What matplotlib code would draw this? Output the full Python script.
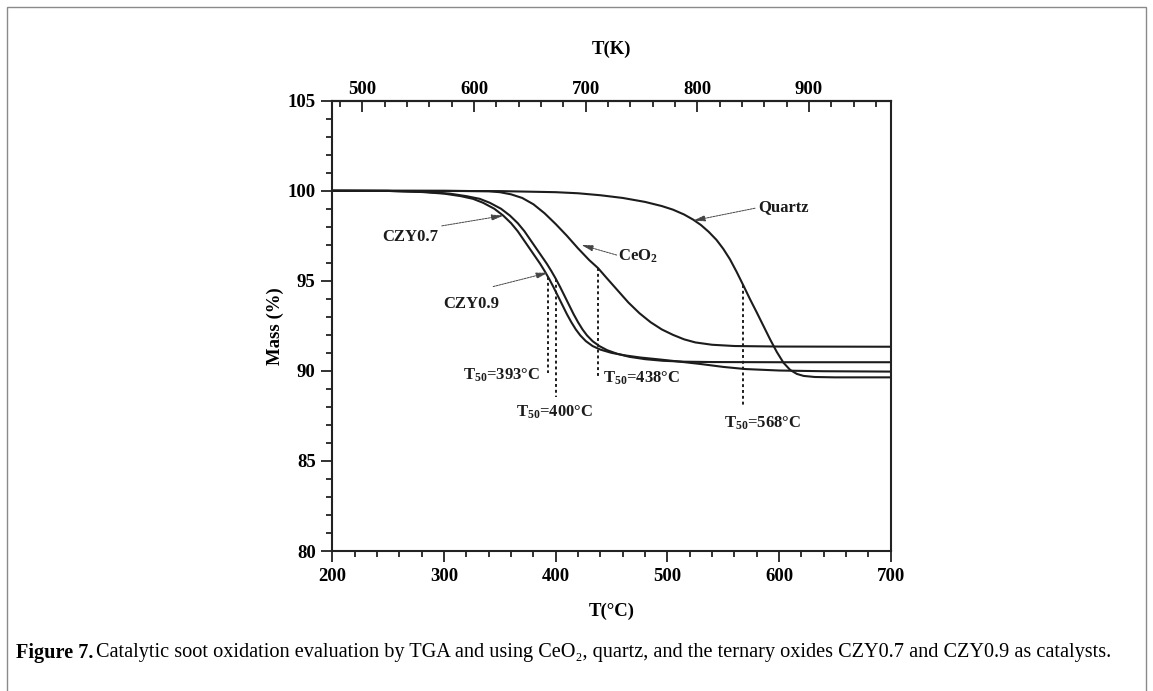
import numpy as np
import matplotlib
matplotlib.use('Agg')
import matplotlib.pyplot as plt
from matplotlib.patches import Rectangle
from matplotlib.ticker import MultipleLocator, FixedLocator

plt.rcParams['font.family'] = ['Liberation Serif', 'DejaVu Serif']
plt.rcParams['mathtext.fontset'] = 'custom'
plt.rcParams['mathtext.rm'] = 'Liberation Serif:bold'
plt.rcParams['mathtext.it'] = 'Liberation Serif:bold'
plt.rcParams['mathtext.bf'] = 'Liberation Serif:bold'

# TGA curves: temperature (°C) and mass (%)
czy_a_t = [200, 250, 280, 300, 315, 326, 335, 345, 353, 360, 366, 371, 376, 381, 386, 390, 394, 398, 402, 406, 410, 414, 418, 422, 427, 433, 440, 450, 462, 476, 492, 510, 530, 550, 570, 600, 640, 700]
czy_a_m = [100, 99.99, 99.93, 99.84, 99.7, 99.55, 99.33, 99.0, 98.62, 98.2, 97.75, 97.3, 96.85, 96.4, 95.95, 95.55, 95.12, 94.65, 94.15, 93.65, 93.15, 92.7, 92.3, 91.97, 91.65, 91.38, 91.18, 91.0, 90.86, 90.74, 90.64, 90.52, 90.38, 90.22, 90.1, 90.02, 89.98, 89.96]

czy_b_t = [200, 250, 285, 305, 320, 332, 341, 351, 359, 366, 372, 377, 382, 387, 392, 396, 400, 404, 408, 412, 416, 420, 424, 428, 433, 439, 446, 455, 466, 480, 496, 515, 540, 600, 700]
czy_b_m = [100, 99.99, 99.93, 99.84, 99.7, 99.55, 99.33, 99.0, 98.62, 98.2, 97.75, 97.3, 96.85, 96.4, 95.95, 95.55, 95.12, 94.65, 94.15, 93.65, 93.15, 92.7, 92.3, 91.97, 91.65, 91.38, 91.15, 90.95, 90.78, 90.65, 90.56, 90.51, 90.49, 90.48, 90.48]

ceo2_t = [200, 300, 340, 350, 360, 370, 380, 390, 400, 410, 420, 430, 438, 445, 455, 465, 475, 485, 495, 505, 515, 525, 540, 560, 600, 700]
ceo2_m = [100, 100, 99.97, 99.92, 99.8, 99.6, 99.25, 98.75, 98.15, 97.5, 96.8, 96.15, 95.7, 95.2, 94.5, 93.8, 93.2, 92.7, 92.3, 92.0, 91.75, 91.58, 91.45, 91.38, 91.35, 91.34]

quartz_t = [200, 350, 400, 420, 440, 460, 480, 495, 505, 515, 523, 530, 537, 544, 550, 556, 562, 568, 574, 580, 586, 592, 598, 604, 610, 616, 622, 632, 650, 700]
quartz_m = [100, 99.98, 99.92, 99.86, 99.75, 99.6, 99.38, 99.15, 98.95, 98.68, 98.4, 98.1, 97.72, 97.27, 96.78, 96.2, 95.5, 94.75, 93.98, 93.25, 92.5, 91.75, 91.05, 90.45, 90.05, 89.83, 89.72, 89.66, 89.64, 89.64]

# T50 markers
t50 = [393, 400, 438, 568]
t50_top = [95.2, 95.12, 95.7, 94.75]
t50_bottom = [89.9, 88.55, 89.6, 88.0]
t50_label_xy = [(385.5, 89.75), (398.5, 87.7), (442, 89.6), (585.5, 87.1)]
t50_label_ha = ['right', 'center', 'left', 'center']

# sample labels: text, text position, arrow start, arrow tip
names = ['CZY0.7', 'CZY0.9', 'CeO$_\\mathregular{2}$', 'Quartz']
name_xy = [(270, 97.42), (324, 93.7), (474, 96.38), (604, 99.08)]
arrow_from = [(298, 98.05), (344, 94.68), (454.6, 96.43), (578.5, 99.03)]
arrow_to = [(353, 98.62), (393, 95.45), (423, 96.99), (523.2, 98.34)]

fig = plt.figure(figsize=(11.53, 6.91), dpi=100)
ax = fig.add_axes([0.2883, 0.2026, 0.4842, 0.6517])

lc = '#1c1c1c'
for t, m in [(czy_a_t, czy_a_m), (czy_b_t, czy_b_m), (ceo2_t, ceo2_m), (quartz_t, quartz_m)]:
    ax.plot(t, m, color=lc, lw=1.5)

for x, y0, y1 in zip(t50, t50_top, t50_bottom):
    ax.plot([x, x], [y0, y1], color=lc, lw=1.4, ls=(0, (1.5, 1.5)))

for x, (lx, ly), ha in zip(t50, t50_label_xy, t50_label_ha):
    ax.text(lx, ly, 'T$_{\\mathregular{50}}$=%d°C' % x, ha=ha, va='center',
            fontsize=12, fontweight='bold', color=lc)

for name, (tx, ty), p0, p1 in zip(names, name_xy, arrow_from, arrow_to):
    ax.text(tx, ty, name, ha='center', va='center', fontsize=12,
            fontweight='bold', color=lc)
    ax.annotate('', xy=p1, xytext=p0,
                arrowprops=dict(arrowstyle='-|>,head_length=0.7,head_width=0.18',
                                color='#444444', lw=0.7, ls=(0, (2, 1)),
                                shrinkA=0, shrinkB=0))

ax.set_xlim(200, 700)
ax.set_ylim(80, 105)
ax.xaxis.set_major_locator(MultipleLocator(100))
ax.xaxis.set_minor_locator(MultipleLocator(20))
ax.yaxis.set_major_locator(MultipleLocator(5))
ax.yaxis.set_minor_locator(MultipleLocator(1))
ax.tick_params(which='both', direction='out', top=False, right=False,
               width=1.3, color='#222222', labelsize=13.5)
ax.tick_params(which='major', length=8, pad=4)
ax.tick_params(which='minor', length=4)
for lab in ax.get_xticklabels() + ax.get_yticklabels():
    lab.set_fontweight('bold')
for s in ax.spines.values():
    s.set_linewidth(1.5)
    s.set_color('#222222')

ax.set_xlabel('T(°C)', fontsize=13.5, fontweight='bold')
ax.xaxis.set_label_coords(0.5, -0.133)
ax.xaxis.label.set_va('center')
ax.set_ylabel('Mass (%)', fontsize=13.5, fontweight='bold')
ax.yaxis.set_label_coords(-0.102, 0.5)
ax.yaxis.label.set_va('center')

sec = ax.secondary_xaxis('top', functions=(lambda c: c + 273.15, lambda k: k - 273.15))
sec.xaxis.set_major_locator(FixedLocator([500, 600, 700, 800, 900]))
sec.xaxis.set_minor_locator(MultipleLocator(20))
sec.tick_params(which='both', direction='in', width=1.3, color='#222222', labelsize=13.5)
sec.tick_params(which='major', length=8, pad=2)
sec.tick_params(which='minor', length=4)
for lab in sec.get_xticklabels():
    lab.set_fontweight('bold')
sec.spines['top'].set_linewidth(1.5)
ax.text(0.5, 1.115, 'T(K)', transform=ax.transAxes, ha='center', va='center',
        fontsize=13.5, fontweight='bold')

fig.patches.append(Rectangle((7 / 1153, -0.02), 1139 / 1153, (684 + 14) / 691,
                             transform=fig.transFigure, fill=False,
                             ec='#8a8a8a', lw=1.0))

cap_y = 1 - 653 / 691
t1 = fig.text(16 / 1153, cap_y, 'Figure 7.', fontsize=14.6, fontweight='bold',
              va='center', ha='left')
fig.canvas.draw()
bb = t1.get_window_extent()
fig.text((bb.x1 + 3) / 1153, cap_y,
         'Catalytic soot oxidation evaluation by TGA and using CeO\u2082, quartz, '
         'and the ternary oxides CZY0.7 and CZY0.9 as catalysts.',
         fontsize=14.6, va='center', ha='left')

fig.savefig('out.png', dpi=100)
